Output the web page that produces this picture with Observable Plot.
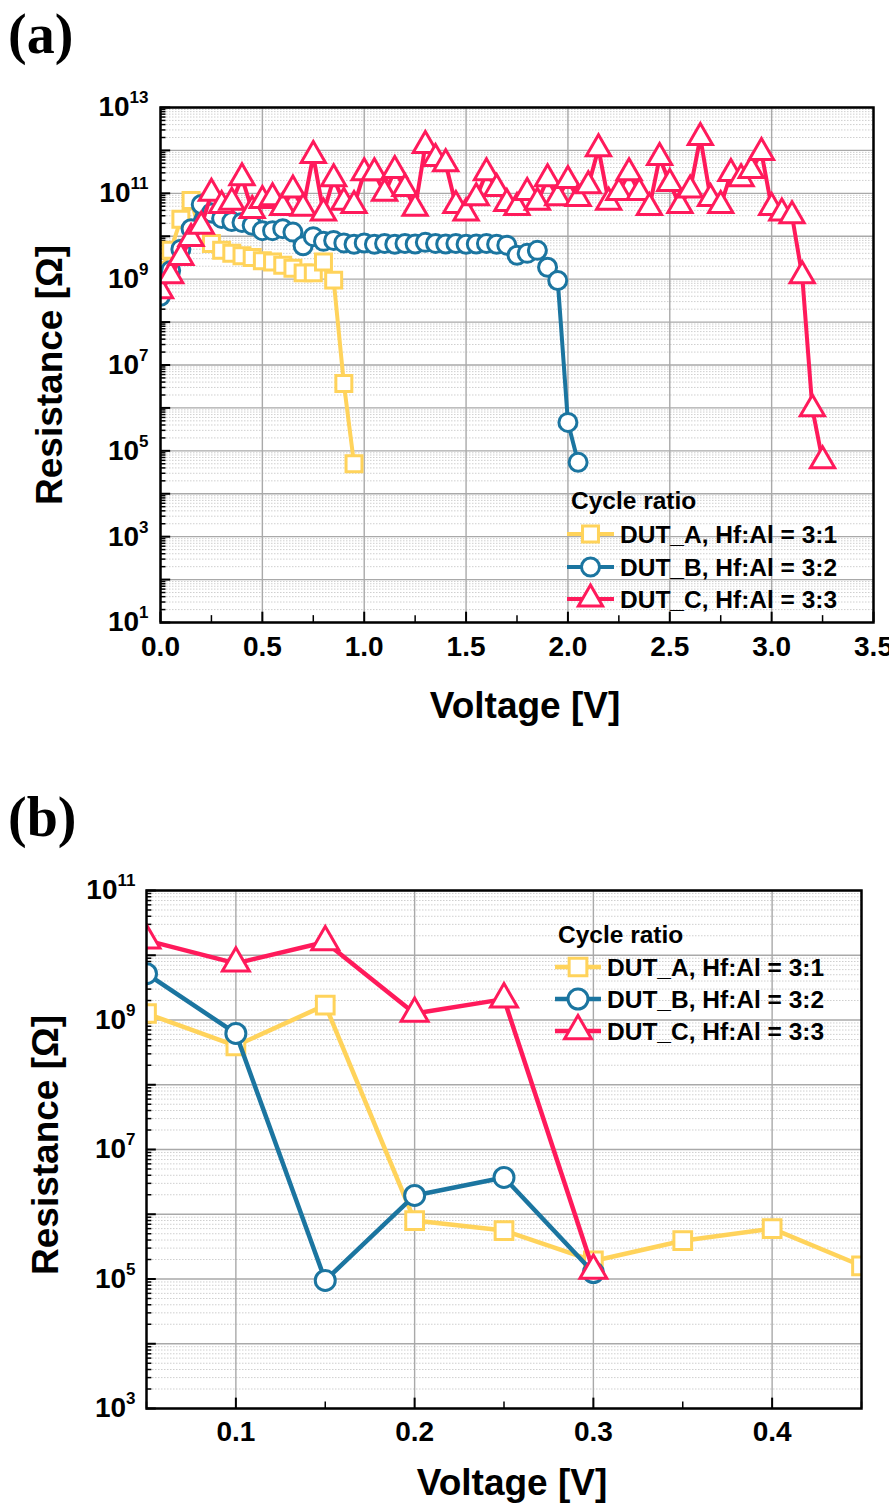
<!DOCTYPE html>
<html><head><meta charset="utf-8">
<script src="https://cdn.jsdelivr.net/npm/d3@7"></script>
<script src="https://cdn.jsdelivr.net/npm/@observablehq/plot@0.6"></script>
<style>
body{margin:0;background:#fff;}
#wrap{position:relative;width:889px;height:1503px;overflow:hidden;background:#fff;}
.panel{position:absolute;left:0;z-index:1;}
.tag{position:absolute;left:8px;z-index:2;font-family:"Liberation Serif","Times New Roman",serif;font-weight:bold;font-size:56px;line-height:1;color:#000;}
</style></head><body>
<div id="wrap">
  <div class="panel" id="pa" style="top:0"></div>
  <div class="panel" id="pb" style="top:760px"></div>
  <div class="tag" style="top:6px">(a)</div>
  <div class="tag" style="top:789px">(b)</div>
</div>
<script>
// ---------- shared legend / series info ----------
const seriesLabels = ["DUT_A, Hf:Al = 3:1", "DUT_B, Hf:Al = 3:2", "DUT_C, Hf:Al = 3:3"];
const seriesColors = ["#FFD35B", "#1B75A0", "#FF1A5B"];
const seriesSymbols = ["square", "circle", "triangle"];
const legendTitle = "Cycle ratio";
const xTitle = "Voltage [V]";
const yTitle = "Resistance [Ω]";

// ---------- panel (a) data ----------
const voltA_a = [0,0.05,0.1,0.15,0.2,0.25,0.3,0.35,0.4,0.45,0.5,0.55,0.6,0.65,0.7,0.75,0.8,0.85,0.9,0.95];
const resA_a = [1.6e9,4.7e9,2.5e10,6.8e10,1.0e10,6.8e9,4.7e9,4.0e9,3.5e9,3.2e9,2.7e9,2.5e9,2.1e9,1.8e9,1.4e9,1.4e9,2.5e9,9.5e8,3.7e6,5.0e4];

const voltB_a = [0,0.05,0.1,0.15,0.2,0.25,0.3,0.35,0.4,0.45,0.5,0.55,0.6,0.65,0.7,0.75,0.8,0.85,0.9,0.95,
  1.0,1.05,1.1,1.15,1.2,1.25,1.3,1.35,1.4,1.45,1.5,1.55,1.6,1.65,1.7,1.75,1.8,1.85,1.9,1.95,2.0,2.05];
const resB_a = [4.0e8,1.6e9,5.0e9,1.5e10,5.5e10,3.5e10,2.6e10,2.2e10,2.1e10,1.8e10,1.35e10,1.35e10,1.5e10,1.25e10,6.0e9,9.8e9,7.6e9,8.0e9,7.0e9,6.5e9,
  7.0e9,6.5e9,6.8e9,6.5e9,6.8e9,6.6e9,7.2e9,6.8e9,6.6e9,6.8e9,6.5e9,6.6e9,6.8e9,6.5e9,6.2e9,3.6e9,4.0e9,4.7e9,1.9e9,9.3e8,4.6e5,5.4e4];

const voltC_a = [0,0.05,0.1,0.15,0.2,0.25,0.3,0.35,0.4,0.45,0.5,0.55,0.6,0.65,0.7,0.75,0.8,0.85,0.9,0.95,
  1.0,1.05,1.1,1.15,1.2,1.25,1.3,1.35,1.4,1.45,1.5,1.55,1.6,1.65,1.7,1.75,1.8,1.85,1.9,1.95,
  2.0,2.05,2.1,2.15,2.2,2.25,2.3,2.35,2.4,2.45,2.5,2.55,2.6,2.65,2.7,2.75,2.8,2.85,2.9,2.95,
  3.0,3.05,3.1,3.15,3.2,3.25];
const resC_a = [5.4e8,1.2e9,3.2e9,8.9e9,1.7e10,1.0e11,5.2e10,6.2e10,2.3e11,4.0e10,6.8e10,7.9e10,4.7e10,1.2e11,4.5e10,7.6e11,3.5e10,2.2e11,6.2e10,5.2e10,
  3.0e11,3.0e11,1.0e11,3.4e11,1.3e11,4.5e10,1.3e12,6.5e11,4.9e11,5.2e10,3.5e10,7.9e10,3.0e11,1.3e11,5.8e10,4.7e10,1.05e11,6.2e10,2.2e11,7.9e10,
  2.0e11,7.6e10,1.5e11,1.1e12,6.2e10,1.05e11,3.0e11,1.05e11,4.7e10,6.8e11,1.7e11,5.2e10,1.2e11,2.0e12,7.6e10,5.2e10,2.9e11,2.2e11,3.4e11,8.9e11,
  4.7e10,3.5e10,3.0e10,1.2e9,9.5e5,5.9e4];

const xTicksA = [0,0.5,1.0,1.5,2.0,2.5,3.0,3.5];
const xMinorA = [0.25,0.75,1.25,1.75,2.25,2.75,3.25];
const yDecadesA = [1,2,3,4,5,6,7,8,9,10,11,12,13];
const yLabelExpA = [1,3,5,7,9,11,13];

// ---------- panel (b) data ----------
const voltA_b = [0.05,0.1,0.15,0.2,0.25,0.3,0.35,0.4,0.45];
const resA_b = [1.26e9,4.0e8,1.7e9,8.0e5,5.6e5,1.9e5,3.9e5,6.0e5,1.6e5];
const voltB_b = [0.05,0.1,0.15,0.2,0.25,0.3];
const resB_b = [5.2e9,6.2e8,9.5e4,1.95e6,3.7e6,1.26e5];
const voltC_b = [0.05,0.1,0.15,0.2,0.25,0.3];
const resC_b = [1.7e10,7.5e9,1.6e10,1.26e9,2.1e9,1.35e5];

const xTicksB = [0.1,0.2,0.3,0.4];
const xMinorB = [0.05,0.15,0.25,0.35,0.45];
const yDecadesB = [3,4,5,6,7,8,9,10,11];
const yLabelExpB = [3,5,7,9,11];

// ---------- helpers ----------
const FONT = '"Liberation Sans", Arial, Helvetica, sans-serif';
const rows = (v, r) => v.map((x, i) => ({v: x, r: r[i]}));
function minorOf(decades) {
  const out = [];
  for (let k = 0; k < decades.length - 1; k++) for (let m = 2; m <= 9; m++) out.push(m * 10 ** decades[k]);
  return out;
}
function seriesMarks(sets, r, sw) {
  const marks = [];
  sets.forEach((d, i) => {
    marks.push(Plot.line(d, {x: "v", y: "r", stroke: seriesColors[i], strokeWidth: sw, clip: true}));
    marks.push(Plot.dot(d, {x: "v", y: "r", symbol: seriesSymbols[i], r, stroke: seriesColors[i], strokeWidth: 3, fill: "white", clip: true}));
  });
  return marks;
}
function superscripts(svg, size, dy) {
  d3.select(svg).selectAll("text").each(function () {
    const m = /^10\^(\d+)$/.exec(this.textContent);
    if (!m) return;
    const s = d3.select(this);
    s.text("10");
    s.append("tspan").attr("dy", dy).attr("font-size", size).text(m[1]);
  });
}
function addTitles(svg, o) {
  const g = d3.select(svg).append("g")
    .attr("font-family", FONT).attr("font-weight", "bold").attr("font-size", 37)
    .attr("fill", "black").attr("text-anchor", "middle");
  g.append("text").attr("x", o.xcx).attr("y", o.xby).text(xTitle);
  g.append("text").attr("transform", `translate(${o.ybx},${o.ycy}) rotate(-90)`).text(yTitle);
}
function addLegend(svg, o) {
  const g = d3.select(svg).append("g")
    .attr("font-family", FONT).attr("font-weight", "bold").attr("font-size", o.fs)
    .attr("fill", "black").attr("text-anchor", "start");
  g.append("text").attr("x", o.titleX).attr("y", o.titleY).text(legendTitle);
  const syms = {square: d3.symbolSquare, circle: d3.symbolCircle, triangle: d3.symbolTriangle};
  seriesLabels.forEach((lab, i) => {
    const cy = o.rowY[i];
    g.append("line").attr("x1", o.lx1).attr("x2", o.lx2).attr("y1", cy).attr("y2", cy)
      .attr("stroke", seriesColors[i]).attr("stroke-width", o.sw);
    g.append("path").attr("transform", `translate(${(o.lx1 + o.lx2) / 2},${cy})`)
      .attr("d", d3.symbol(syms[seriesSymbols[i]], Math.PI * o.r * o.r)())
      .attr("fill", "white").attr("stroke", seriesColors[i]).attr("stroke-width", 3);
    g.append("text").attr("x", o.textX).attr("y", cy + o.fs * 0.36).text(lab);
  });
}

// ---------- panel (a) ----------
{
  const decades = yDecadesA.map(e => 10 ** e);
  const sets = [rows(voltA_a, resA_a), rows(voltB_a, resB_a), rows(voltC_a, resC_a)];
  const svg = Plot.plot({
    width: 889, height: 740,
    marginTop: 107, marginLeft: 160, marginRight: 16, marginBottom: 118,
    x: {domain: [0, 3.5]},
    y: {type: "log", domain: [1e1, 1e13]},
    style: {fontFamily: FONT, fontWeight: "bold", background: "white", color: "black"},
    marks: [
      Plot.gridY(minorOf(yDecadesA), {stroke: "#cfcfcf", strokeOpacity: 1, strokeWidth: 1, strokeDasharray: "1.5,1.5"}),
      Plot.gridY(decades, {stroke: "#a9a9a9", strokeOpacity: 1, strokeWidth: 1.4}),
      Plot.gridX(xTicksA, {stroke: "#a9a9a9", strokeOpacity: 1, strokeWidth: 1.4}),
      Plot.ruleY(decades, {y: d => d, x1: 0, x2: 0.05, stroke: "black", strokeWidth: 2}),
      Plot.ruleY(minorOf(yDecadesA), {y: d => d, x1: 0, x2: 0.027, stroke: "black", strokeWidth: 1.5}),
      Plot.ruleX(xTicksA, {x: d => d, y1: 1e1, y2: 10 ** 1.24, stroke: "black", strokeWidth: 2}),
      Plot.ruleX(xMinorA, {x: d => d, y1: 1e1, y2: 10 ** 1.16, stroke: "black", strokeWidth: 1.5}),
      Plot.axisX(xTicksA, {anchor: "bottom", tickSize: 0, tickPadding: 14, tickFormat: d => d.toFixed(1), fontSize: 28, label: null}),
      Plot.axisY(yLabelExpA.map(e => 10 ** e), {anchor: "left", tickSize: 0, tickPadding: 12, tickFormat: d => "10^" + Math.round(Math.log10(d)), fontSize: 28, label: null}),
      ...seriesMarks(sets, 9, 4),
      Plot.frame({stroke: "black", strokeWidth: 2.5})
    ]
  });
  superscripts(svg, 17, -13);
  addTitles(svg, {xcx: 525, xby: 718, ybx: 62, ycy: 375});
  addLegend(svg, {fs: 24.5, titleX: 571, titleY: 509, rowY: [534, 567, 599], lx1: 567, lx2: 614, textX: 620, sw: 4, r: 9});
  document.getElementById("pa").appendChild(svg);
}

// ---------- panel (b) ----------
{
  const decades = yDecadesB.map(e => 10 ** e);
  const sets = [rows(voltA_b, resA_b), rows(voltB_b, resB_b), rows(voltC_b, resC_b)];
  const svg = Plot.plot({
    width: 889, height: 743,
    marginTop: 130, marginLeft: 146, marginRight: 28, marginBottom: 95,
    x: {domain: [0.05, 0.45]},
    y: {type: "log", domain: [1e3, 1e11]},
    style: {fontFamily: FONT, fontWeight: "bold", background: "white", color: "black"},
    marks: [
      Plot.gridY(minorOf(yDecadesB), {stroke: "#cfcfcf", strokeOpacity: 1, strokeWidth: 1, strokeDasharray: "1.5,1.5"}),
      Plot.gridY(decades, {stroke: "#a9a9a9", strokeOpacity: 1, strokeWidth: 1.4}),
      Plot.gridX(xTicksB, {stroke: "#a9a9a9", strokeOpacity: 1, strokeWidth: 1.4}),
      Plot.ruleY(decades, {y: d => d, x1: 0.05, x2: 0.0555, stroke: "black", strokeWidth: 2}),
      Plot.ruleY(minorOf(yDecadesB), {y: d => d, x1: 0.05, x2: 0.053, stroke: "black", strokeWidth: 1.5}),
      Plot.ruleX(xTicksB, {x: d => d, y1: 1e3, y2: 10 ** 3.16, stroke: "black", strokeWidth: 2}),
      Plot.ruleX(xMinorB, {x: d => d, y1: 1e3, y2: 10 ** 3.1, stroke: "black", strokeWidth: 1.5}),
      Plot.axisX(xTicksB, {anchor: "bottom", tickSize: 0, tickPadding: 13, tickFormat: d => d.toFixed(1), fontSize: 28, label: null}),
      Plot.axisY(yLabelExpB.map(e => 10 ** e), {anchor: "left", tickSize: 0, tickPadding: 11, tickFormat: d => "10^" + Math.round(Math.log10(d)), fontSize: 28, label: null}),
      ...seriesMarks(sets, 10, 4.5),
      Plot.frame({stroke: "black", strokeWidth: 2.5})
    ]
  });
  superscripts(svg, 17, -13);
  addTitles(svg, {xcx: 512, xby: 735, ybx: 58, ycy: 385});
  addLegend(svg, {fs: 24.5, titleX: 558, titleY: 183, rowY: [207, 239, 271], lx1: 555, lx2: 601, textX: 607, sw: 4.5, r: 10});
  document.getElementById("pb").appendChild(svg);
}
</script>
</body></html>
